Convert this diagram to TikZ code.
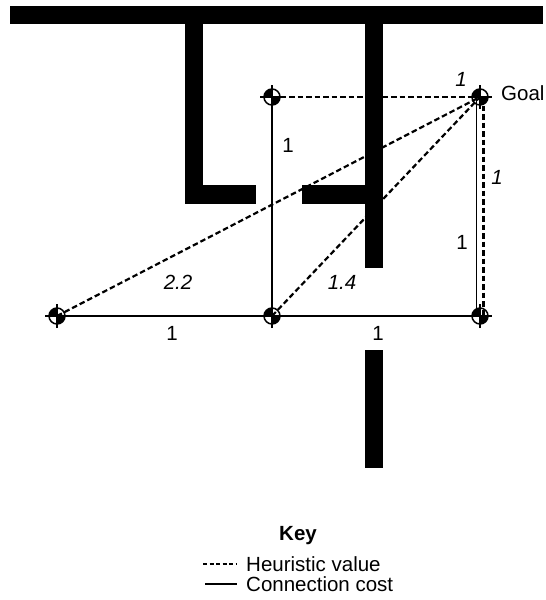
\documentclass[tikz,border=0pt]{standalone}
\usepackage{fontspec}
\setmainfont{Liberation Sans}
\begin{document}
\begin{tikzpicture}[x=1pt,y=-1pt,
  wall/.style={fill=black},
  cost/.style={line width=1.8pt},
  heur/.style={line width=2.2pt,dash pattern=on 5.5pt off 3pt},
  wp/.style={circle,inner sep=0pt,minimum size=16pt},
  lbl/.style={font=\fontsize{20.5}{23}\selectfont,inner sep=1pt},
  ilbl/.style={font=\fontsize{20.5}{23}\selectfont\itshape,inner sep=1pt}]
\useasboundingbox (0,0) rectangle (546,600);
% walls
\fill[wall] (10,6) rectangle (543,24);
\fill[wall] (185,24) rectangle (203,204);
\fill[wall] (185,185) rectangle (256,204);
\fill[wall] (365,24) rectangle (383,268);
\fill[wall] (302,185) rectangle (383,204);
\fill[wall] (365,350) rectangle (383,468);
% waypoints
\node[wp] (A) at (57,316) {};
\node[wp] (B) at (272,316) {};
\node[wp] (C) at (480,316) {};
\node[wp] (D) at (272,97) {};
\node[wp] (G) at (480,97) {};
% connection costs
\draw[cost] (A.center) -- (B.center);
\draw[cost] (B.center) -- (C.center);
\draw[cost] (B.center) -- (D.center);
\draw[cost] ([xshift=-3.5pt]G.center) -- ([xshift=-3.5pt]C.center);
% heuristics
\draw[heur] (D.center) -- (G.center);
\draw[heur] (A.center) -- (G.center);
\draw[heur] (B.center) -- (G.center);
\draw[heur] ([xshift=3.5pt]G.center) -- ([xshift=3.5pt]C.center);
% symbols
\foreach \n in {A,B,C,D,G}{
  \fill[black] (\n.center) -- ++(-8pt,0pt) arc[start angle=180,end angle=90,radius=8pt] -- cycle;
  \fill[black] (\n.center) -- ++(8pt,0pt) arc[start angle=0,end angle=-90,radius=8pt] -- cycle;
  \draw[line width=1.5pt] (\n.center) circle[radius=8pt];
  \draw[line width=1.3pt] ([xshift=-12pt]\n.center) -- ([xshift=12pt]\n.center);
  \draw[line width=1.3pt] ([yshift=-12pt]\n.center) -- ([yshift=12pt]\n.center);
}
% labels
\node[ilbl] (l1) at (461,79) {1};
\node[lbl] (l2) at (288,145) {1};
\node[ilbl] (l3) at (497,177) {1};
\node[lbl] (l4) at (462,242) {1};
\node[ilbl] (l5) at (178,282) {2.2};
\node[ilbl] (l6) at (342,282) {1.4};
\node[lbl] (l7) at (172,333) {1};
\node[lbl] (l8) at (378,333) {1};
\node[lbl,anchor=west] (goal) at (500,93) {Goal};
% key
\node[lbl,font=\fontsize{20.5}{23}\selectfont\bfseries] (key) at (298,536) {Key};
\coordinate (k1a) at (203,564);
\coordinate (k1b) at (237,564);
\coordinate (k2a) at (205,584);
\coordinate (k2b) at (237,584);
\draw[line width=1.2pt,dash pattern=on 4pt off 2.5pt] (k1a) -- (k1b);
\draw[line width=1.6pt] (k2a) -- (k2b);
\node[lbl,anchor=west] (kh) at (245,564) {Heuristic value};
\node[lbl,anchor=west] (kc) at (245,584) {Connection cost};
\end{tikzpicture}
\end{document}
